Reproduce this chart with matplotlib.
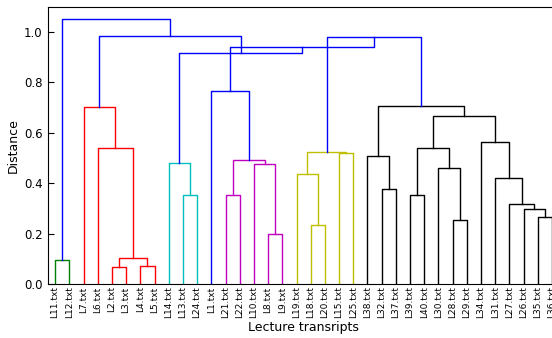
import matplotlib

matplotlib.use("Agg")
import matplotlib.pyplot as plt
import numpy as np

# leaf labels, in the order they appear along the x axis
leaf_labels = [
    "L11.txt", "L12.txt", "L7.txt", "L6.txt", "L2.txt", "L3.txt", "L4.txt",
    "L5.txt", "L14.txt", "L13.txt", "L24.txt", "L1.txt", "L21.txt", "L22.txt",
    "L10.txt", "L8.txt", "L9.txt", "L19.txt", "L18.txt", "L20.txt", "L15.txt",
    "L25.txt", "L38.txt", "L32.txt", "L37.txt", "L39.txt", "L40.txt", "L30.txt",
    "L28.txt", "L29.txt", "L34.txt", "L31.txt", "L27.txt", "L26.txt", "L35.txt",
    "L36.txt",
]
n_leaves = len(leaf_labels)

# linkage: ids < n_leaves are leaves, merge k creates cluster n_leaves + k
merge_left = [4, 6, 0, 36, 15, 18, 28, 34, 33, 32, 12, 9, 25, 23, 31, 17, 27,
              14, 8, 46, 22, 20, 51, 48, 3, 30, 59, 2, 56, 11, 58, 65, 54, 63, 38]
merge_right = [5, 7, 1, 37, 16, 19, 29, 35, 43, 44, 13, 10, 26, 24, 45, 41, 42,
               40, 47, 53, 49, 21, 57, 52, 39, 50, 61, 60, 62, 55, 64, 66, 67, 68, 69]
merge_height = [0.068, 0.073, 0.095, 0.105, 0.200, 0.233, 0.256, 0.266, 0.298,
                0.320, 0.352, 0.354, 0.355, 0.378, 0.421, 0.438, 0.461, 0.477,
                0.481, 0.492, 0.510, 0.520, 0.523, 0.540, 0.542, 0.563, 0.668,
                0.702, 0.705, 0.768, 0.980, 0.939, 0.917, 0.983, 1.050]

palette = ["g", "r", "c", "m", "y", "k"]
above_color = "b"
threshold = 0.7 * max(merge_height)

# x position and height of every node
pos = {i: 5.0 + 10.0 * i for i in range(n_leaves)}
hgt = {i: 0.0 for i in range(n_leaves)}
for k, (a, b, h) in enumerate(zip(merge_left, merge_right, merge_height)):
    pos[n_leaves + k] = (pos[a] + pos[b]) / 2
    hgt[n_leaves + k] = h

# colour links: each subtree below the threshold gets the next palette colour
link_color = {}


def paint(node, color):
    if node < n_leaves:
        return
    link_color[node] = color
    k = node - n_leaves
    paint(merge_left[k], color)
    paint(merge_right[k], color)


counter = [0]


def assign(node):
    if node < n_leaves:
        return
    k = node - n_leaves
    if merge_height[k] < threshold:
        paint(node, palette[counter[0] % len(palette)])
        counter[0] += 1
    else:
        link_color[node] = above_color
        assign(merge_left[k])
        assign(merge_right[k])


root = n_leaves + len(merge_height) - 1
assign(root)

fig = plt.figure(figsize=(5.52, 3.38), dpi=100)
ax = fig.add_axes([0.087, 0.159, 0.926, 0.821])

for k, (a, b, h) in enumerate(zip(merge_left, merge_right, merge_height)):
    node = n_leaves + k
    xs = [pos[a], pos[a], pos[b], pos[b]]
    ys = [hgt[a], h, h, hgt[b]]
    ax.plot(xs, ys, color=link_color[node], linewidth=1.0)

ax.set_xlim(0, 10 * n_leaves)
ax.set_ylim(0, 1.1)
ax.set_xticks([pos[i] for i in range(n_leaves)])
ax.set_xticklabels(leaf_labels, rotation=90, fontsize=6.5)
ax.tick_params(axis="x", length=0, pad=1.5)
ax.set_yticks(np.arange(0, 1.01, 0.2))
ax.set_yticklabels([f"{v:.1f}" for v in np.arange(0, 1.01, 0.2)], fontsize=8.5)
ax.tick_params(axis="y", direction="in", length=4, pad=4)
ax.spines["right"].set_visible(False)

ax.set_xlabel("Lecture transripts", fontsize=9, labelpad=2)
ax.set_ylabel("Distance", fontsize=9, labelpad=3)

fig.savefig("out.png", dpi=100, facecolor="white")
